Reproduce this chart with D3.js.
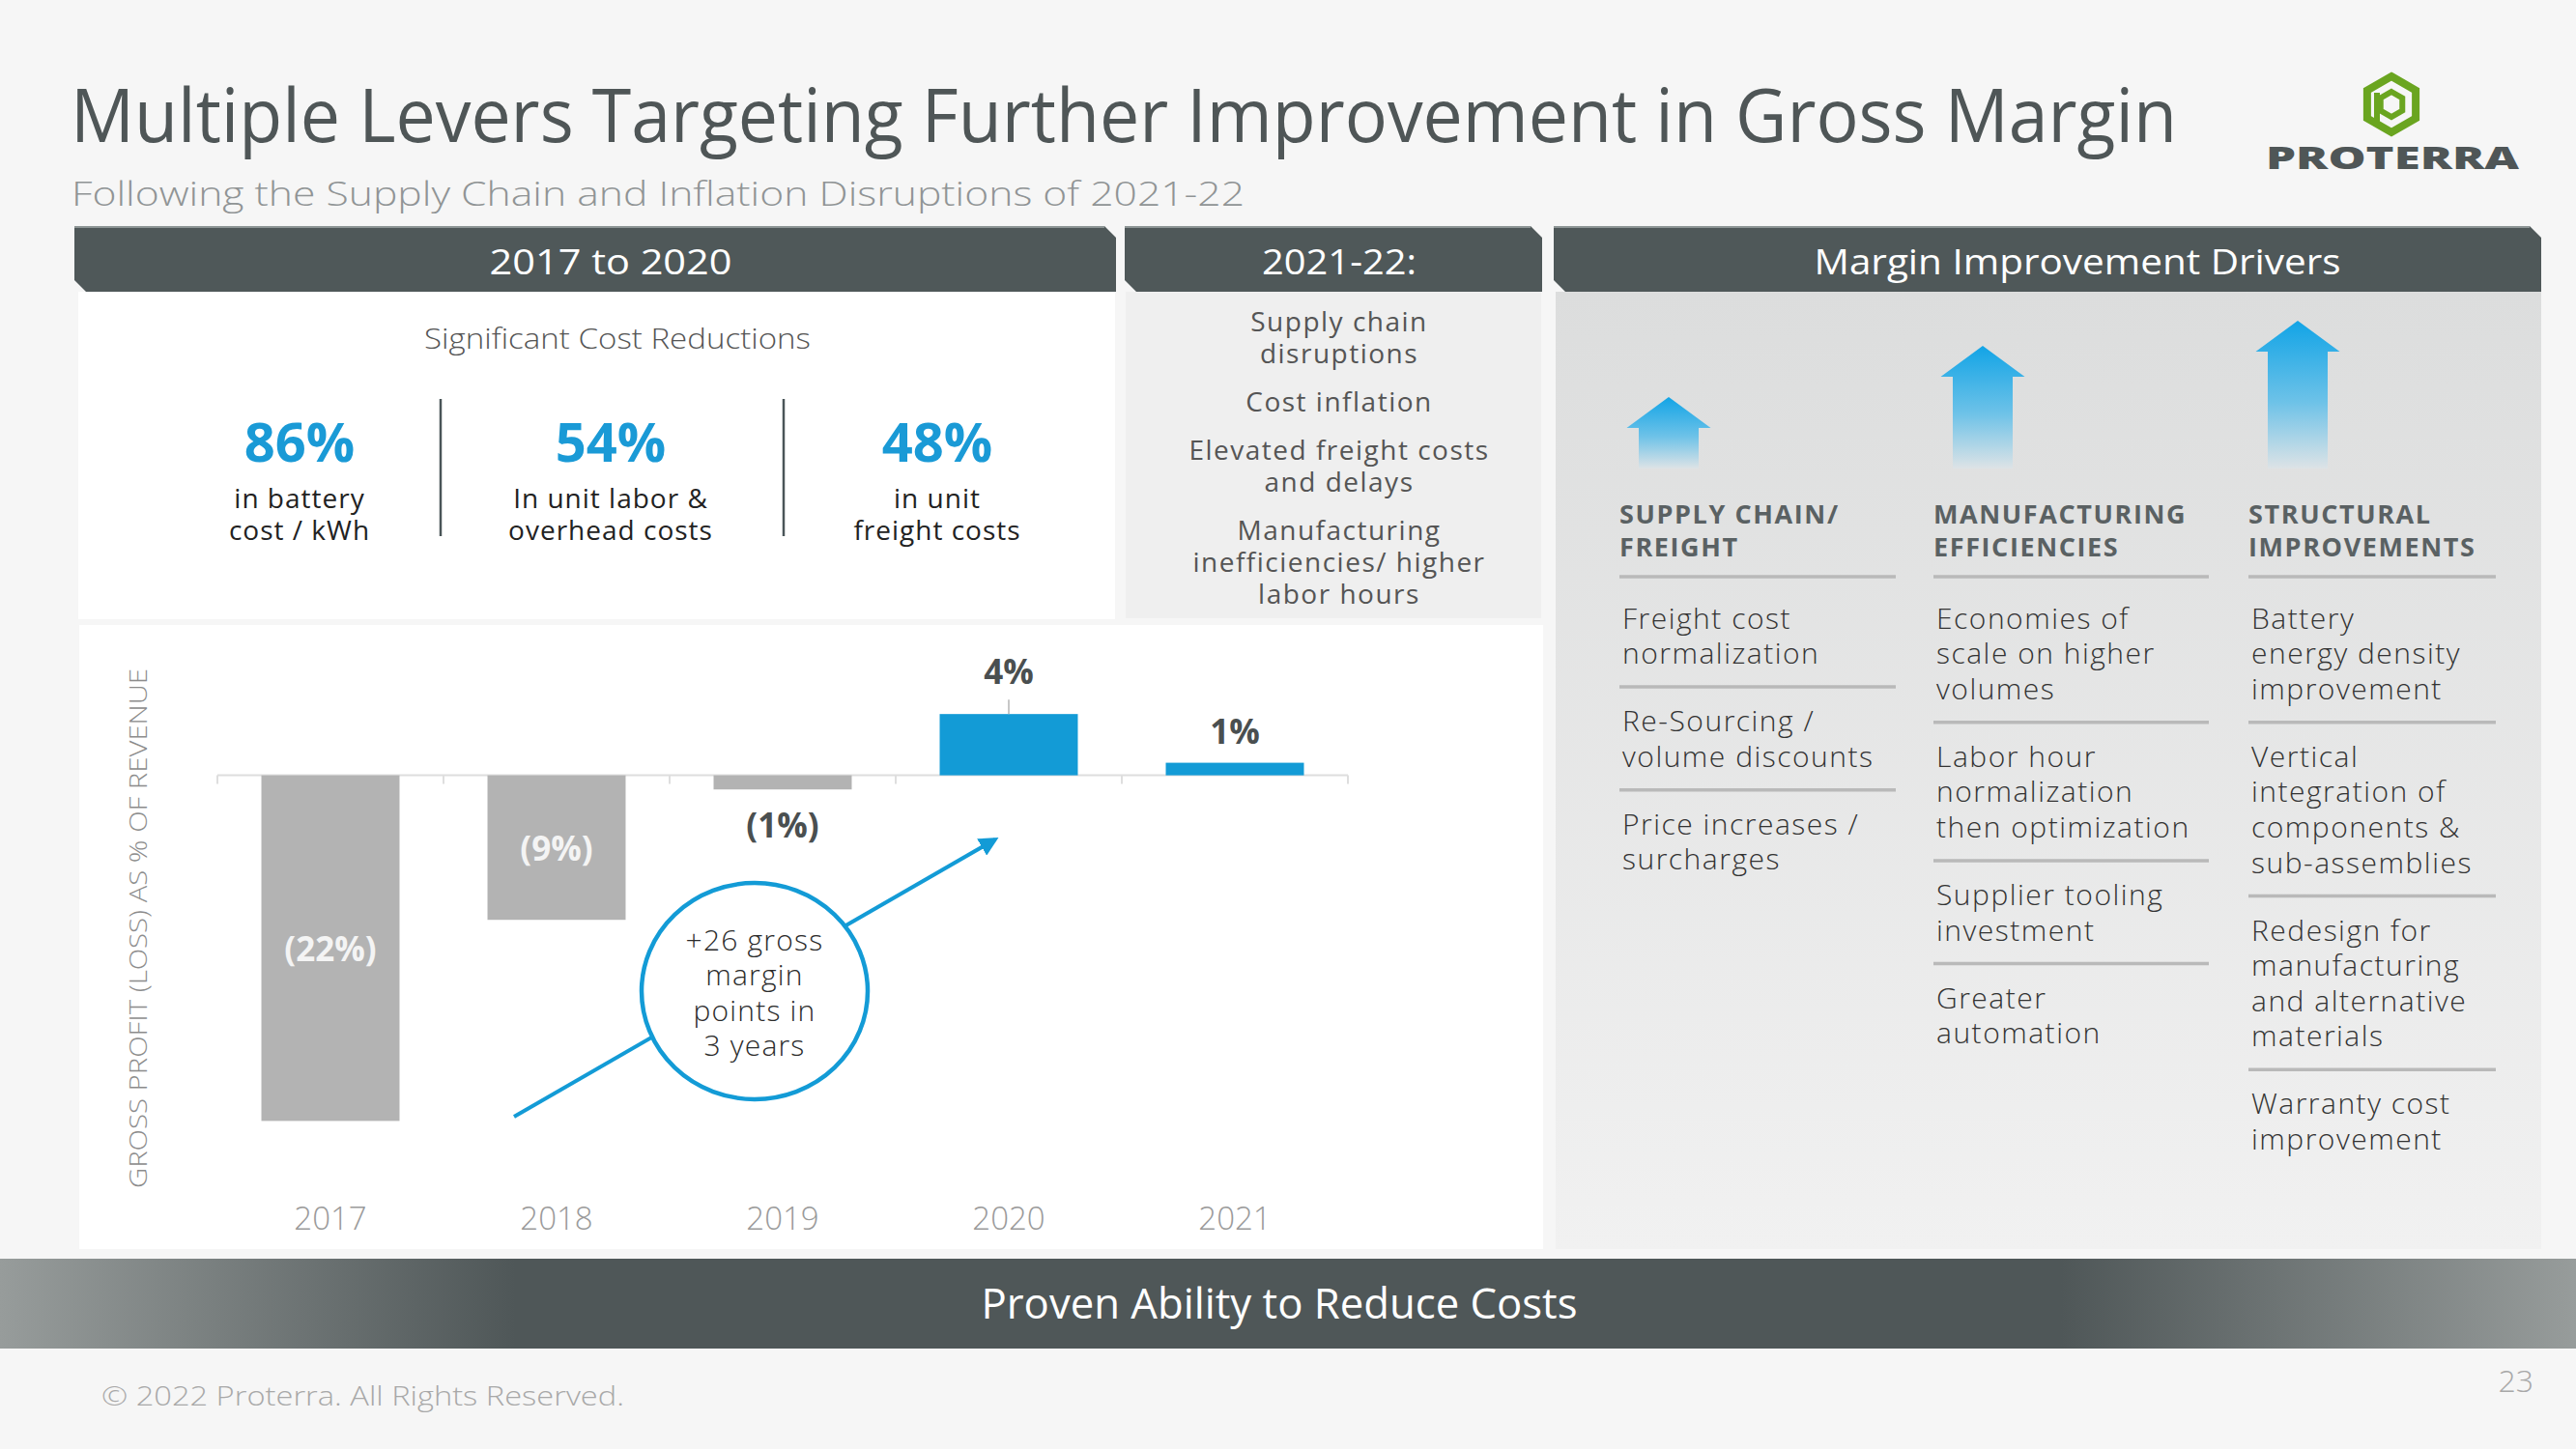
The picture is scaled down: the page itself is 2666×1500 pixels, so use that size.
<!DOCTYPE html>
<html>
<head>
<meta charset="utf-8">
<script src="https://cdn.jsdelivr.net/npm/d3@7"></script>
<style>
  html, body { margin: 0; padding: 0; background: #f6f6f6; }
  svg { display: block; }
  text { font-family: "Open Sans", "Lato", sans-serif; }
</style>
</head>
<body>
<svg id="chart" width="2666" height="1500"></svg>
<script>
// ---------------- DATA ----------------
const years = ["2017", "2018", "2019", "2020", "2021"];
const grossMargin = [-22, -9.2, -0.9, 3.9, 0.8];
const marginLabels = ["(22%)", "(9%)", "(1%)", "4%", "1%"];

const costReductions = ["86%", "54%", "48%"];
const costReductionDesc = [
  ["in battery", "cost / kWh"],
  ["In unit labor &", "overhead costs"],
  ["in unit", "freight costs"]
];

const disruptions = [
  ["Supply chain", "disruptions"],
  ["Cost inflation"],
  ["Elevated freight costs", "and delays"],
  ["Manufacturing", "inefficiencies/ higher", "labor hours"]
];

const driverCategories = [
  ["SUPPLY CHAIN/", "FREIGHT"],
  ["MANUFACTURING", "EFFICIENCIES"],
  ["STRUCTURAL", "IMPROVEMENTS"]
];
const driverItems = [
  [["Freight cost", "normalization"], ["Re-Sourcing /", "volume discounts"], ["Price increases /", "surcharges"]],
  [["Economies of", "scale on higher", "volumes"], ["Labor hour", "normalization", "then optimization"], ["Supplier tooling", "investment"], ["Greater", "automation"]],
  [["Battery", "energy density", "improvement"], ["Vertical", "integration of", "components &", "sub-assemblies"], ["Redesign for", "manufacturing", "and alternative", "materials"], ["Warranty cost", "improvement"]]
];

const titleText = "Multiple Levers Targeting Further Improvement in Gross Margin";
const subtitleText = "Following the Supply Chain and Inflation Disruptions of 2021-22";
const headerTexts = ["2017 to 2020", "2021-22:", "Margin Improvement Drivers"];
const yAxisTitle = "GROSS PROFIT (LOSS) AS % OF REVENUE";
const circleText = ["+26 gross", "margin", "points in", "3 years"];
const bannerText = "Proven Ability to Reduce Costs";
const footerText = "\u00A9 2022 Proterra. All Rights Reserved.";
const pageNumber = "23";

// ---------------- SETUP ----------------
const svg = d3.select("#chart");
const DARK = "#4f5859";
const BLUE = "#139bd6";
const defs = svg.append("defs");

function fit(sel, w) {
  sel.attr("textLength", w).attr("lengthAdjust", "spacingAndGlyphs");
  return sel;
}

svg.append("rect").attr("width", 2666).attr("height", 1500).attr("fill", "#f6f6f6");

// Title & subtitle
fit(svg.append("text").attr("x", 73).attr("y", 147)
  .attr("font-size", 77).attr("fill", "#4f5657").attr("font-weight", 400)
  .text(titleText), 2180);
fit(svg.append("text").attr("x", 74).attr("y", 213)
  .attr("font-size", 35).attr("fill", "#909495").attr("font-weight", 300)
  .text(subtitleText), 1214);

// Logo
(function logo() {
  const g = svg.append("g");
  const cx = 2475, cy = 108;
  const hex = (r) => d3.range(6).map(i => {
    const a = Math.PI / 180 * (60 * i - 90);
    return [cx + r * Math.cos(a), cy + r * Math.sin(a)];
  });
  const line = d3.line().curve(d3.curveLinearClosed);
  g.append("path").attr("d", line(hex(29))).attr("fill", "none")
    .attr("stroke", "#6aa520").attr("stroke-width", 8);
  g.append("path").attr("d", line(hex(13))).attr("fill", "none")
    .attr("stroke", "#6aa520").attr("stroke-width", 6);
  g.append("line").attr("x1", cx - 15).attr("x2", cx - 15).attr("y1", cy - 12).attr("y2", cy + 22)
    .attr("stroke", "#6aa520").attr("stroke-width", 6);
  fit(g.append("text").attr("x", 2345).attr("y", 175).attr("font-size", 32)
    .attr("font-weight", 800).attr("fill", "#4f5657").text("PROTERRA"), 262);
})();

// Header bars
function chamferPath(x0, y0, x1, y1, c) {
  return `M${x0},${y0} L${x1 - c},${y0} L${x1},${y0 + c} L${x1},${y1} L${x0 + c},${y1} L${x0},${y1 - c} Z`;
}
const headers = [
  { x0: 77, x1: 1155, cx: 632, w: 251 },
  { x0: 1164, x1: 1596, cx: 1386, w: 160 },
  { x0: 1608, x1: 2630, cx: 2150, w: 545 }
];

// Panels (backgrounds)
svg.append("rect").attr("x", 81).attr("y", 302).attr("width", 1073).attr("height", 339).attr("fill", "#ffffff");
svg.append("rect").attr("x", 1165).attr("y", 302).attr("width", 430).attr("height", 338).attr("fill", "#efefef");
svg.append("rect").attr("x", 82).attr("y", 647).attr("width", 1515).attr("height", 646).attr("fill", "#ffffff");

const pg = defs.append("linearGradient").attr("id", "panelGrad").attr("x1", 0).attr("x2", 0).attr("y1", 0).attr("y2", 1);
pg.append("stop").attr("offset", 0).attr("stop-color", "#dcdddd");
pg.append("stop").attr("offset", 1).attr("stop-color", "#f1f1f1");
svg.append("rect").attr("x", 1610).attr("y", 302).attr("width", 1020).attr("height", 991).attr("fill", "url(#panelGrad)");

headers.forEach((h, i) => {
  svg.append("path").attr("d", chamferPath(h.x0, 234, h.x1, 302, 12)).attr("fill", DARK);
  svg.append("line").attr("x1", h.x0).attr("x2", h.x1 - 12).attr("y1", 235).attr("y2", 235)
    .attr("stroke", "#8d9595").attr("stroke-width", 2);
  fit(svg.append("text").attr("x", h.cx).attr("y", 271).attr("dy", "0.35em")
    .attr("text-anchor", "middle").attr("font-size", 36).attr("fill", "#ffffff")
    .text(headerTexts[i]), h.w);
});

// ---------------- 2017-2020 cost reductions ----------------
fit(svg.append("text").attr("x", 639).attr("y", 351).attr("dy", "0.35em").attr("text-anchor", "middle")
  .attr("font-size", 29).attr("font-weight", 300).attr("fill", "#555").text("Significant Cost Reductions"), 400);

const crCenters = [310, 632, 970];
costReductions.forEach((d, i) => {
  svg.append("text").attr("x", crCenters[i]).attr("y", 478).attr("text-anchor", "middle")
    .attr("font-size", 56).attr("font-weight", 700).attr("fill", "#1a9ad6").text(d);
  const t = svg.append("text").attr("text-anchor", "middle");
  costReductionDesc[i].forEach((line, j) => {
    t.append("tspan").attr("x", crCenters[i]).attr("y", 526 + j * 33)
      .attr("font-size", 28).attr("letter-spacing", 1).attr("fill", "#222").text(line);
  });
});
[456, 811].forEach(x => {
  svg.append("line").attr("x1", x).attr("x2", x).attr("y1", 413).attr("y2", 555)
    .attr("stroke", "#4a5558").attr("stroke-width", 2.5);
});

// ---------------- 2021-22 disruptions ----------------
(function () {
  let y = 333;
  const g = svg.append("g");
  disruptions.forEach(block => {
    block.forEach((t, j) => {
      g.append("text").attr("x", 1386).attr("y", y + j * 33).attr("dy", "0.35em").attr("text-anchor", "middle")
        .attr("font-size", 28).attr("letter-spacing", 1.5).attr("fill", "#555").text(t);
    });
    y += (block.length - 1) * 33 + 50;
  });
})();

// ---------------- Bar chart ----------------
const x = d3.scaleBand().domain(years).range([225, 1395]).paddingInner(0.389).paddingOuter(0.1945);
const y = d3.scaleLinear().domain([-22, 0]).range([1160.4, 802.6]);
const chart = svg.append("g");

// baseline axis with ticks at band boundaries
const axisG = chart.append("g").attr("transform", `translate(0,${y(0)})`);
axisG.append("line").attr("x1", 225).attr("x2", 1395).attr("stroke", "#dedede").attr("stroke-width", 2);
const tickXs = d3.range(years.length + 1).map(i => 225 + i * x.step());
axisG.selectAll("line.tk").data(tickXs).join("line").attr("class", "tk")
  .attr("x1", d => d).attr("x2", d => d).attr("y1", 0).attr("y2", 9)
  .attr("stroke", "#dedede").attr("stroke-width", 2);

chart.selectAll("rect.bar").data(grossMargin).join("rect").attr("class", "bar")
  .attr("x", (d, i) => x(years[i])).attr("width", x.bandwidth())
  .attr("y", d => Math.min(y(d), y(0))).attr("height", d => Math.abs(y(d) - y(0)))
  .attr("fill", d => d < 0 ? "#b3b3b3" : BLUE);

const maxIdx = grossMargin.indexOf(d3.max(grossMargin));
// leader line for max bar
chart.append("line").attr("x1", x(years[maxIdx]) + x.bandwidth() / 2).attr("x2", x(years[maxIdx]) + x.bandwidth() / 2)
  .attr("y1", y(grossMargin[maxIdx])).attr("y2", y(grossMargin[maxIdx]) - 15)
  .attr("stroke", "#b5b5b5").attr("stroke-width", 1.5);

chart.selectAll("text.vl").data(grossMargin).join("text").attr("class", "vl")
  .attr("x", (d, i) => x(years[i]) + x.bandwidth() / 2)
  .attr("y", (d, i) => {
    if (d < -5) return (y(d) + y(0)) / 2 + 1;
    if (d < 0) return y(d) + 38;
    if (i === maxIdx) return y(d) - 43;
    return y(d) - 32;
  })
  .attr("dy", "0.35em").attr("text-anchor", "middle").attr("font-size", 35).attr("font-weight", 700)
  .attr("fill", d => d < -5 ? "#f4f4f4" : "#4a4f50")
  .text((d, i) => marginLabels[i]);

// x labels
chart.selectAll("text.xl").data(years).join("text").attr("class", "xl")
  .attr("x", d => x(d) + x.bandwidth() / 2).attr("y", 1261).attr("dy", "0.35em")
  .attr("text-anchor", "middle").attr("font-size", 33).attr("font-weight", 300).attr("fill", "#9a9a9a")
  .text(d => d);

// y-axis title
fit(chart.append("text").attr("transform", "translate(143,961) rotate(-90)").attr("dy", "0.35em")
  .attr("text-anchor", "middle").attr("font-size", 25).attr("font-weight", 300).attr("fill", "#8c8c8c")
  .text(yAxisTitle), 538);

// trend arrow
defs.append("marker").attr("id", "arrowHead").attr("viewBox", "0 0 10 10").attr("refX", 8).attr("refY", 5)
  .attr("markerWidth", 5).attr("markerHeight", 5).attr("orient", "auto")
  .append("path").attr("d", "M0,0 L10,5 L0,10 Z").attr("fill", BLUE);
chart.append("line").attr("x1", 532).attr("y1", 1156).attr("x2", 1030).attr("y2", 869)
  .attr("stroke", BLUE).attr("stroke-width", 4).attr("marker-end", "url(#arrowHead)");

chart.append("ellipse").attr("cx", 781).attr("cy", 1026).attr("rx", 117).attr("ry", 112)
  .attr("fill", "#ffffff").attr("stroke", BLUE).attr("stroke-width", 4.5);
circleText.forEach((t, i) => {
  chart.append("text").attr("x", 781).attr("y", 973 + i * 36.5).attr("dy", "0.35em").attr("text-anchor", "middle")
    .attr("font-size", 30).attr("font-weight", 300).attr("letter-spacing", 1.2).attr("fill", "#2b2b2b").text(t);
});

// ---------------- Margin Improvement Drivers ----------------
const colX = [1676, 2001, 2327];
const colW = [286, 285, 256];
const arrowTops = [411, 358, 332];
const ag = defs.append("linearGradient").attr("id", "arrowGrad").attr("x1", 0).attr("x2", 0).attr("y1", 0).attr("y2", 1);
ag.append("stop").attr("offset", 0).attr("stop-color", "#12a4e6");
ag.append("stop").attr("offset", 0.55).attr("stop-color", "#6dc2e8");
ag.append("stop").attr("offset", 1).attr("stop-color", "#dde3e6");

driverCategories.forEach((cat, c) => {
  const cx = colX[c] + 51;
  const top = arrowTops[c];
  const bottom = 485, headH = 32, hw = 43.5, sw = 31;
  const pts = [[cx, top], [cx + hw, top + headH], [cx + sw, top + headH], [cx + sw, bottom],
    [cx - sw, bottom], [cx - sw, top + headH], [cx - hw, top + headH]];
  svg.append("path").attr("d", d3.line().curve(d3.curveLinearClosed)(pts)).attr("fill", "url(#arrowGrad)");

  cat.forEach((t, j) => {
    svg.append("text").attr("x", colX[c]).attr("y", 542 + j * 33.5)
      .attr("font-size", 27).attr("font-weight", 700).attr("letter-spacing", 1.6).attr("fill", "#5a6163").text(t);
  });
  svg.append("line").attr("x1", colX[c]).attr("x2", colX[c] + colW[c]).attr("y1", 597).attr("y2", 597)
    .attr("stroke", "#b9b9b9").attr("stroke-width", 3.5);

  let yy = 640;
  driverItems[c].forEach((block, b) => {
    block.forEach((t, j) => {
      svg.append("text").attr("x", colX[c] + 3).attr("y", yy + j * 36.6).attr("dy", "0.35em")
        .attr("font-size", 30).attr("font-weight", 300).attr("letter-spacing", 1.5).attr("fill", "#333").text(t);
    });
    const last = yy + (block.length - 1) * 36.6;
    if (b < driverItems[c].length - 1) {
      const sep = last + 34.5;
      svg.append("line").attr("x1", colX[c]).attr("x2", colX[c] + colW[c]).attr("y1", sep).attr("y2", sep)
        .attr("stroke", "#b9b9b9").attr("stroke-width", 3.5);
      yy = sep + 35.5;
    }
  });
});

// ---------------- Banner & footer ----------------
const bg = defs.append("linearGradient").attr("id", "bannerGrad").attr("x1", 0).attr("x2", 1).attr("y1", 0).attr("y2", 0);
bg.append("stop").attr("offset", 0).attr("stop-color", "#979c9b");
bg.append("stop").attr("offset", 0.2).attr("stop-color", "#4f5758");
bg.append("stop").attr("offset", 0.8).attr("stop-color", "#4f5758");
bg.append("stop").attr("offset", 1).attr("stop-color", "#979c9b");
svg.append("rect").attr("x", 0).attr("y", 1303).attr("width", 2666).attr("height", 93).attr("fill", "url(#bannerGrad)");
fit(svg.append("text").attr("x", 1324).attr("y", 1350).attr("dy", "0.35em").attr("text-anchor", "middle")
  .attr("font-size", 43).attr("fill", "#ffffff").text(bannerText), 617);

fit(svg.append("text").attr("x", 105).attr("y", 1445).attr("dy", "0.35em")
  .attr("font-size", 28).attr("font-weight", 300).attr("fill", "#a8a8a8").text(footerText), 541);
svg.append("text").attr("x", 2622).attr("y", 1430).attr("dy", "0.35em").attr("text-anchor", "end")
  .attr("font-size", 32).attr("font-weight", 300).attr("fill", "#a8a8a8").text(pageNumber);
</script>
</body>
</html>
